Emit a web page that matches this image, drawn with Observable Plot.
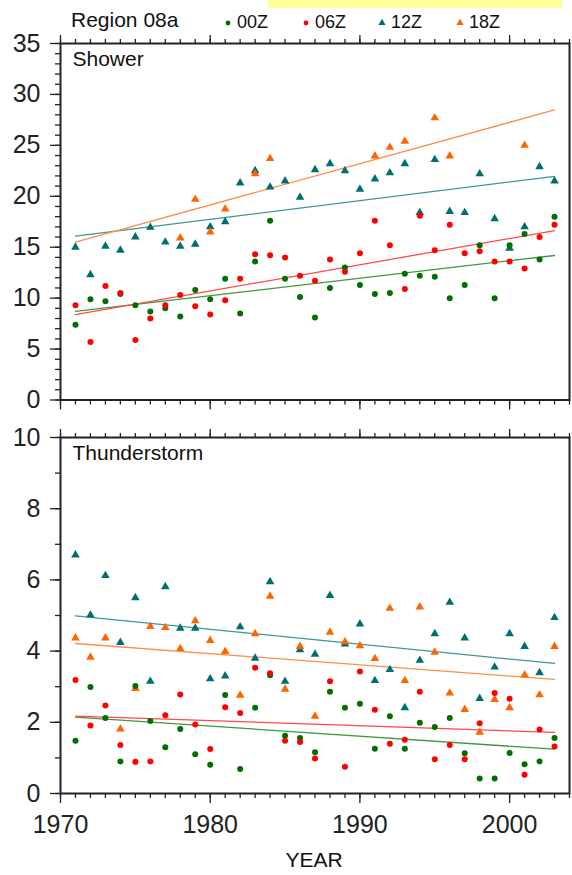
<!DOCTYPE html>
<html>
<head>
<meta charset="utf-8">
<script src="https://cdn.jsdelivr.net/npm/d3@7"></script>
<script src="https://cdn.jsdelivr.net/npm/@observablehq/plot@0.6"></script>
<style>
  html, body { margin: 0; padding: 0; background: #fff; }
  #wrap { position: relative; width: 572px; height: 875px; font-family: "Liberation Sans", Arial, sans-serif; color: #222; }
  .abs { position: absolute; white-space: nowrap; }
</style>
</head>
<body>
<div id="wrap">
  <div id="topPanel" class="abs" style="left:0;top:0"></div>
  <div id="botPanel" class="abs" style="left:0;top:418px"></div>
</div>
<script>
// ---------------- data ----------------
const years = [1971,1972,1973,1974,1975,1976,1977,1978,1979,1980,1981,1982,1983,1984,1985,1986,1987,1988,1989,1990,1991,1992,1993,1994,1995,1996,1997,1998,1999,2000,2001,2002,2003];
const seriesNames = ["00Z", "06Z", "12Z", "18Z"];
const seriesColors = ["#006e00", "#ff0000", "#006e6e", "#ff6400"];
const lineColors = ["#3f993f", "#ff4a4a", "#3a9898", "#ff8c4a"];
const seriesSymbols = ["circle", "circle", "triangle", "triangle"];

// Shower
const shower00 = [7.4,9.9,9.7,10.4,9.3,8.7,9.0,8.2,10.8,9.9,11.9,8.5,13.6,17.6,11.9,10.1,8.1,11.0,13.0,11.3,10.4,10.5,12.4,12.2,12.1,10.0,11.3,15.2,10.0,15.2,16.3,13.8,18.0];
const shower06 = [9.3,5.7,11.2,10.5,5.9,8.0,9.3,10.3,9.2,8.4,9.8,11.9,14.3,14.2,14.0,12.2,11.7,13.8,12.6,14.4,17.6,15.2,10.9,18.1,14.7,17.2,14.4,14.6,13.6,13.6,12.9,16.0,17.2];
const shower12 = [15.0,12.3,15.1,14.7,16.0,16.95,15.5,15.1,15.3,17.0,17.5,21.3,22.5,20.9,21.5,19.9,22.6,23.2,22.5,20.7,21.7,22.3,23.2,18.4,23.6,18.5,18.4,22.2,17.8,14.9,17.0,22.9,21.5];
const shower18 = [null,null,null,null,null,null,null,15.9,19.7,16.5,18.75,null,22.2,23.7,null,null,null,null,null,null,23.95,24.8,25.4,null,27.7,23.95,null,null,null,null,25.0,null,null];

// Thunderstorm
const thunder00 = [1.48,2.99,2.12,0.9,3.02,2.04,1.3,1.81,1.1,0.81,2.77,0.69,2.41,3.32,1.62,1.56,1.16,2.86,2.41,2.52,1.26,2.17,1.26,1.99,1.87,2.12,1.13,0.42,0.42,1.14,0.82,0.9,1.56];
const thunder06 = [3.19,1.91,2.47,1.36,0.89,0.9,2.2,2.78,1.94,1.25,2.42,2.26,3.53,3.38,1.48,1.45,0.98,3.15,0.75,3.43,2.35,1.4,1.51,2.86,0.96,1.36,0.96,1.97,2.82,2.66,0.53,1.8,1.32];
const thunder12 = [6.7,5.01,6.12,4.24,5.5,3.15,5.81,4.64,4.64,3.22,3.3,4.68,3.8,5.95,3.15,4.04,3.91,5.56,4.2,4.76,3.17,3.48,2.41,3.74,4.49,5.37,4.37,2.67,3.55,4.49,4.13,3.39,4.94];
const thunder18 = [4.37,3.83,4.37,1.81,2.95,4.69,4.66,4.07,4.85,4.3,3.99,2.76,4.49,5.54,2.93,4.13,2.17,4.53,4.26,4.15,3.79,5.2,3.17,5.24,3.97,2.82,2.36,1.72,2.64,2.41,3.33,2.77,4.13];

const yTicksShower = [0,5,10,15,20,25,30,35];
const yTicksThunder = [0,2,4,6,8,10];
const xTicksMajor = [1970,1980,1990,2000];

// ---------------- helpers ----------------
function toRows(arrays) {
  const rows = [];
  arrays.forEach((vals, s) => {
    vals.forEach((v, i) => {
      if (v != null) rows.push({year: years[i], value: v, series: seriesNames[s]});
    });
  });
  return rows;
}
function fits(arrays) {
  const out = [];
  arrays.forEach((vals, s) => {
    const pts = vals.map((v, i) => [years[i], v]).filter(d => d[1] != null);
    const mx = d3.mean(pts, d => d[0]), my = d3.mean(pts, d => d[1]);
    const b = d3.sum(pts, d => (d[0]-mx)*(d[1]-my)) / d3.sum(pts, d => (d[0]-mx)**2);
    const x0 = years[0], x1 = years[years.length-1];
    out.push({year: x0, value: my + b*(x0-mx), series: seriesNames[s]});
    out.push({year: x1, value: my + b*(x1-mx), series: seriesNames[s]});
  });
  return out;
}
const minorX = d3.range(1970, 2005, 1);
const blank = () => "";

function panel({arrays, yDomain, yMajor, yMinor, height, marginTop, marginBottom, title, xLabels}) {
  const rows = toRows(arrays);
  const lines = fits(arrays);
  return Plot.plot({
    width: 572,
    height,
    marginLeft: 60,
    marginRight: 3,
    marginTop,
    marginBottom,
    style: {fontFamily: "Liberation Sans, Arial, sans-serif", fontSize: "25px", color: "#222", background: "transparent", overflow: "visible"},
    x: {domain: [1970, 2004]},
    y: {domain: yDomain},
    color: {domain: seriesNames, range: seriesColors},
    symbol: {domain: seriesNames, range: seriesSymbols},
    marks: [
      Plot.axisY({ticks: yMajor, tickSize: 10, tickPadding: 10, tickFormat: d3.format("d"), label: null, strokeWidth: 1.3}),
      Plot.axisY({ticks: yMinor, tickSize: 5, tickFormat: blank, label: null, strokeWidth: 1.3}),
      Plot.axisX({anchor: "bottom", ticks: xTicksMajor, tickSize: 10, tickPadding: 12, tickFormat: xLabels ? d3.format("d") : blank, label: null, strokeWidth: 1.3}),
      Plot.axisX({anchor: "bottom", ticks: minorX, tickSize: 5, tickFormat: blank, label: null, strokeWidth: 1.3}),
      Plot.axisX({anchor: "top", ticks: xTicksMajor, tickSize: 9, tickFormat: blank, label: null, strokeWidth: 1.3}),
      Plot.axisX({anchor: "top", ticks: minorX, tickSize: 5, tickFormat: blank, label: null, strokeWidth: 1.3}),
      Plot.line(lines, {x: "year", y: "value", z: "series", stroke: d => lineColors[seriesNames.indexOf(d.series)], strokeWidth: 1.3}),
      Plot.dot(rows, {x: "year", y: "value", fill: "series", symbol: "series", r: d => d.series === "12Z" || d.series === "18Z" ? 2.7 : 2.4, stroke: "none"}),
      Plot.frame({stroke: "#222", strokeWidth: 2}),
      Plot.text([title], {frameAnchor: "top-left", dx: 12, dy: 8, lineAnchor: "top", textAnchor: "start", fontSize: 21, fill: "#111"})
    ]
  });
}

const topChart = panel({
  arrays: [shower00, shower06, shower12, shower18],
  yDomain: [0, 35], yMajor: yTicksShower, yMinor: d3.range(0, 36, 1),
  height: 418, marginTop: 43, marginBottom: 18.5, title: "Shower", xLabels: false
});
document.getElementById("topPanel").appendChild(topChart);

const botChart = panel({
  arrays: [thunder00, thunder06, thunder12, thunder18],
  yDomain: [0, 10], yMajor: yTicksThunder, yMinor: d3.range(0, 11, 1),
  height: 457, marginTop: 19, marginBottom: 82, title: "Thunderstorm", xLabels: true
});
document.getElementById("botPanel").appendChild(botChart);

// ---------------- header, legend, axis title ----------------
const wrap = document.getElementById("wrap");
function addDiv(html, style) {
  const d = document.createElement("div");
  d.className = "abs";
  d.style.cssText = style;
  d.innerHTML = html;
  wrap.appendChild(d);
  return d;
}
addDiv("", "left:268px;top:0;width:294px;height:8px;background:#ffff99;");
addDiv("Region 08a", "left:71px;top:8px;font-size:21px;line-height:24px;color:#111;");
const legendX = [223, 301, 377, 455];
seriesNames.forEach((name, i) => {
  const sym = seriesSymbols[i] === "circle"
    ? `<circle cx="5" cy="6" r="2.4" fill="${seriesColors[i]}"/>`
    : `<path d="${d3.symbol(d3.symbolTriangle, Math.PI*2.7*2.7)()}" transform="translate(5,6)" fill="${seriesColors[i]}"/>`;
  addDiv(`<svg width="10" height="12" style="vertical-align:middle;margin-right:4px">${sym}</svg><span>${name}</span>`,
    `left:${legendX[i]}px;top:12px;font-size:18px;line-height:20px;color:#111;`);
});
addDiv("YEAR", "left:314px;top:848px;transform:translateX(-50%);font-size:21px;line-height:24px;color:#111;");
</script>
</body>
</html>
